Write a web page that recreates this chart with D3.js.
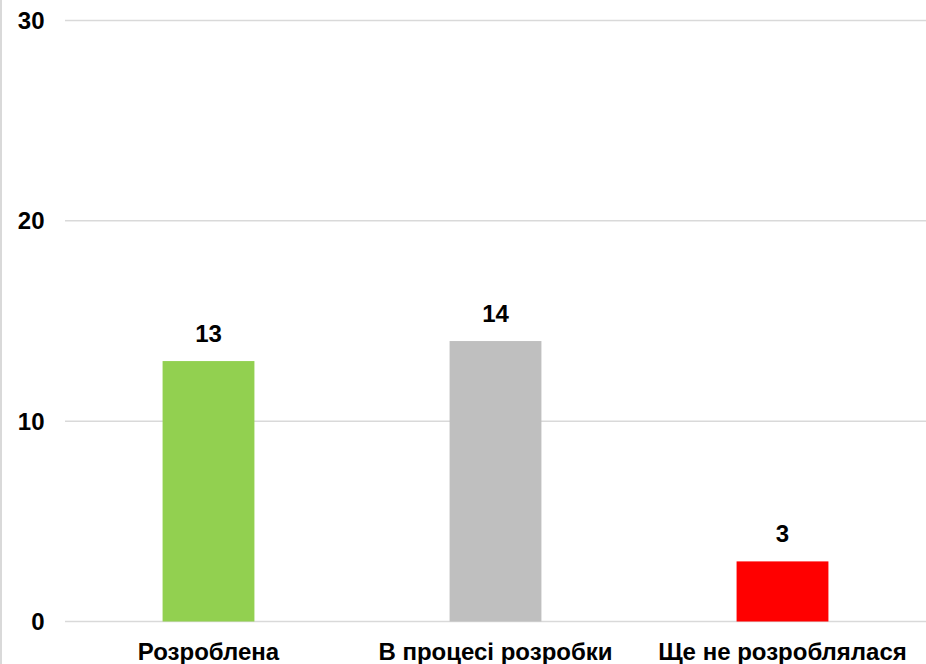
<!DOCTYPE html>
<html><head><meta charset="utf-8">
<script src="https://cdn.jsdelivr.net/npm/d3@7"></script>
<style>body{margin:0;background:#fff}svg{display:block}text{font-family:"Liberation Sans",Arial,sans-serif;font-weight:bold;fill:#000}</style>
</head><body>
<script>
const categories = ["Розроблена", "В процесі розробки", "Ще не розроблялася"];
const values = [13, 14, 3];
const colors = ["#92d050", "#bfbfbf", "#ff0000"];
const yTicks = [0, 10, 20, 30];

const W = 926, H = 664;
const m = {left: 65, right: 0, top: 20.5, bottom: 42.5};
const FS = 24;
const svg = d3.select("body").append("svg").attr("width", W).attr("height", H);
svg.append("line").attr("x1", 1).attr("x2", 1).attr("y1", 0).attr("y2", H).attr("stroke", "#d9d9d9").attr("stroke-width", 2);

const x = d3.scaleBand().domain(categories).range([m.left, W - m.right]).paddingInner(0.68).paddingOuter(0.34);
const y = d3.scaleLinear().domain([0, 30]).range([H - m.bottom, m.top]);

svg.append("g").selectAll("line").data(yTicks).join("line")
  .attr("x1", m.left).attr("x2", W).attr("y1", d => y(d)).attr("y2", d => y(d))
  .attr("stroke", "#d9d9d9").attr("stroke-width", 1.5);

svg.append("g").selectAll("text").data(yTicks).join("text")
  .attr("x", 44.5).attr("y", d => y(d) + 8.5).attr("text-anchor", "end").attr("font-size", FS).text(d => d);

svg.append("g").selectAll("rect").data(values).join("rect")
  .attr("x", (d, i) => x(categories[i])).attr("width", x.bandwidth())
  .attr("y", d => y(d)).attr("height", d => y(0) - y(d)).attr("fill", (d, i) => colors[i]);

svg.append("g").selectAll("text").data(values).join("text")
  .attr("x", (d, i) => x(categories[i]) + x.bandwidth() / 2).attr("y", d => y(d) - 19)
  .attr("text-anchor", "middle").attr("font-size", FS).text(d => d);

svg.append("g").selectAll("text").data(categories).join("text")
  .attr("x", d => x(d) + x.bandwidth() / 2).attr("y", 660)
  .attr("text-anchor", "middle").attr("font-size", FS).text(d => d);
</script>
</body></html>
